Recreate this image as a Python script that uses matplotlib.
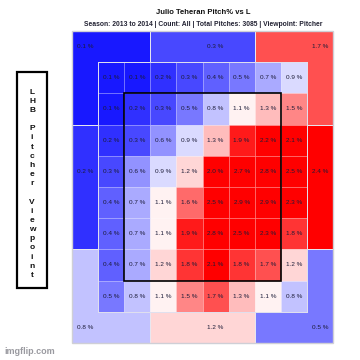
"""Julio Teheran pitch location heat map vs LHB (pitcher viewpoint)."""
import matplotlib
matplotlib.use("Agg")
import matplotlib.pyplot as plt
from matplotlib.colors import LinearSegmentedColormap, TwoSlopeNorm
from matplotlib.patches import Polygon, Rectangle

plt.rcParams["font.family"] = ["Liberation Sans Narrow", "Liberation Sans", "DejaVu Sans"]

title = "Julio Teheran Pitch% vs L"
subtitle = "Season: 2013 to 2014 | Count: All | Total Pitches: 3085 | Viewpoint: Pitcher"
side_label = "LHB Pitcher Viewpoint"

# inner 8x8 grid, rows top -> bottom, values in %
row1 = [0.1, 0.1, 0.2, 0.3, 0.4, 0.5, 0.7, 0.9]
row2 = [0.1, 0.2, 0.3, 0.5, 0.8, 1.1, 1.3, 1.5]
row3 = [0.2, 0.3, 0.6, 0.9, 1.3, 1.9, 2.2, 2.1]
row4 = [0.3, 0.6, 0.9, 1.2, 2.0, 2.7, 2.8, 2.5]
row5 = [0.4, 0.7, 1.1, 1.6, 2.5, 2.9, 2.9, 2.3]
row6 = [0.4, 0.7, 1.1, 1.9, 2.8, 2.5, 2.3, 1.8]
row7 = [0.4, 0.7, 1.2, 1.8, 2.1, 1.8, 1.7, 1.2]
row8 = [0.5, 0.8, 1.1, 1.5, 1.7, 1.3, 1.1, 0.8]
inner = [row1, row2, row3, row4, row5, row6, row7, row8]

# outer ring zones
outer_names = ["TL", "T", "TR", "L", "R", "BL", "B", "BR"]
outer_values = [0.1, 0.3, 1.7, 0.2, 2.4, 0.8, 1.2, 0.5]

# zone shapes on a 10x10 unit board (y grows downward) and label spots
shapes = {
    "TL": [(0, 0), (3, 0), (3, 1), (1, 1), (1, 3), (0, 3)],
    "T": [(3, 0), (7, 0), (7, 1), (3, 1)],
    "TR": [(7, 0), (10, 0), (10, 3), (9, 3), (9, 1), (7, 1)],
    "L": [(0, 3), (1, 3), (1, 7), (0, 7)],
    "R": [(9, 3), (10, 3), (10, 7), (9, 7)],
    "BL": [(0, 7), (1, 7), (1, 9), (3, 9), (3, 10), (0, 10)],
    "B": [(3, 9), (7, 9), (7, 10), (3, 10)],
    "BR": [(9, 7), (10, 7), (10, 10), (7, 10), (7, 9), (9, 9)],
}
label_pos = {"TL": (0.5, 0.5), "T": (5.5, 0.5), "TR": (9.5, 0.5),
             "L": (0.5, 4.5), "R": (9.5, 4.5),
             "BL": (0.5, 9.5), "B": (5.5, 9.5), "BR": (9.5, 9.5)}

cmap = LinearSegmentedColormap.from_list("bwr_", ["#0000ff", "#ffffff", "#ff0000"])
norm = TwoSlopeNorm(vmin=0.0, vcenter=1.05, vmax=2.0)
txt_color = "#1c1c38"
txt_size = 4.6

W = H = 360
fig = plt.figure(figsize=(3.6, 3.6), dpi=100)
ax = fig.add_axes([72 / W, 1 - 343 / H, 261 / W, 312 / H])
ax.set_xlim(0, 10)
ax.set_ylim(10, 0)
ax.axis("off")

for name, val in zip(outer_names, outer_values):
    ax.add_patch(Polygon(shapes[name], closed=True, facecolor=cmap(norm(val)),
                         edgecolor="#e8e8f0", linewidth=0.7))
    x, y = label_pos[name]
    ax.text(x, y, f"{val:.1f} %", ha="center", va="center",
            fontsize=txt_size, color=txt_color)

for r, row in enumerate(inner):
    for c, val in enumerate(row):
        ax.add_patch(Rectangle((1 + c, 1 + r), 1, 1, facecolor=cmap(norm(val)),
                               edgecolor=(1, 1, 1, 0.25), linewidth=0.4))
        ax.text(1.5 + c, 1.5 + r, f"{val:.1f} %", ha="center", va="center",
                fontsize=txt_size, color=txt_color)

# inner grid outline and strike zone
ax.add_patch(Rectangle((1, 1), 8, 8, fill=False, edgecolor="#e0e0ee", linewidth=0.7))
ax.add_patch(Rectangle((2, 2), 6, 6, fill=False, edgecolor="black", linewidth=1.2))
ax.add_patch(Rectangle((0, 0), 10, 10, fill=False, edgecolor="#cfcfd6",
                       linewidth=1.0, clip_on=False))

fig.text(203 / W, 1 - 13 / H, title, ha="center", va="center",
         fontsize=5.5, fontweight="bold", color="#111111")
fig.text(203 / W, 1 - 25 / H, subtitle, ha="center", va="center",
         fontsize=4.9, fontweight="bold", color="#222233")

# side box with stacked letters
fig.add_artist(Rectangle((17 / W, 1 - 288 / H), 30 / W, 216 / H, fill=False,
                         edgecolor="black", linewidth=1.6,
                         transform=fig.transFigure))
for i, ch in enumerate(side_label):
    if ch == " ":
        continue
    fig.text(32 / W, 1 - (92 + i * 9.17) / H, ch, ha="center", va="center",
             fontsize=6, fontweight="bold", color="#111111")

fig.text(4 / W, 1 - 352 / H, "imgflip.com", ha="left", va="center",
         fontsize=6.5, fontweight="bold", color="#9a9aa0")

fig.savefig("out.png", dpi=100)
